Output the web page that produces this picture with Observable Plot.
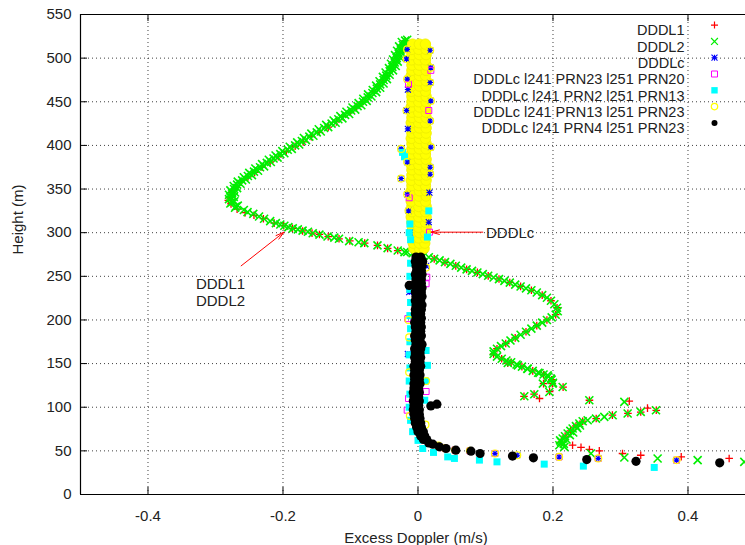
<!DOCTYPE html>
<html><head><meta charset="utf-8">
<script src="https://cdn.jsdelivr.net/npm/d3@7"></script>
<script src="https://cdn.jsdelivr.net/npm/@observablehq/plot@0.6"></script>
<style>
body{margin:0;background:#fff}
#chart{width:745px;height:545px}
</style>
</head><body><div id="chart"></div>
<script>
// ---------- axes ----------
const xDomain = [-0.5, 0.4852];
const yDomain = [0, 550];
const xTicks = [-0.4, -0.2, 0, 0.2, 0.4];
const yTicks = [0, 50, 100, 150, 200, 250, 300, 350, 400, 450, 500, 550];
const xLabel = "Excess Doppler (m/s)";
const yLabel = "Height (m)";
const seriesNames = ["DDDL1", "DDDL2", "DDDLc",
  "DDDLc l241 PRN23 l251 PRN20", "DDDLc l241 PRN2 l251 PRN13",
  "DDDLc l241 PRN13 l251 PRN23", "DDDLc l241 PRN4 l251 PRN23"];

// ---------- series: [excess doppler (m/s), height (m)] ----------
const DDDL1 = [
[-0.019,520],[-0.022,514],[-0.027,507],[-0.031,500],[-0.036,493],[-0.040,487],[-0.046,480],[-0.052,474],[-0.058,468],[-0.065,462],
[-0.073,456],[-0.082,450],[-0.091,444],[-0.100,438],[-0.111,433],[-0.121,427],[-0.133,421],[-0.146,415],[-0.158,410],[-0.170,404],
[-0.182,399],[-0.195,393],[-0.207,387],[-0.219,381],[-0.231,375],[-0.242,369],[-0.252,364],[-0.262,358],[-0.270,352],[-0.276,346],
[-0.279,340],[-0.281,337],[-0.277,333],[-0.268,327],[-0.256,323],[-0.243,320],[-0.229,316],[-0.213,311],[-0.199,308],[-0.186,305],
[-0.171,302],[-0.157,299.5],[-0.146,298],[-0.133,295.5],[-0.117,293],[-0.101,290.5],[-0.079,288],[-0.060,285.5],[-0.045,282],[-0.030,279.5],
[0.024,270],[0.040,266],[0.056,262],[0.072,258],[0.088,254.5],[0.104,250.5],[0.120,247],[0.136,243],[0.152,238.5],[0.168,234],
[0.184,228.5],[0.197,222],[0.206,214],[0.204,206],[0.191,200],[0.176,193.5],[0.160,186.5],[0.144,179.5],[0.130,173],[0.117,167],
[0.112,161],[0.124,155.5],[0.138,151.5],[0.154,146.5],[0.170,141.7],[0.186,137.5],[0.198,131.5],[0.199,127],
[0.133,150.5],[0.186,127],[0.195,118],[0.215,123],[0.157,112.5],[0.172,115],[0.180,110],[0.254,108],[0.313,107],[0.311,93],
[0.330,94.5],[0.340,99],[0.353,96.5],
[0.212,60],[0.218,67],[0.226,73],[0.234,78.5],[0.244,84],[0.264,87],[0.288,91],[0.229,56.5],[0.2415,54],[0.254,51.6],
[0.2686,50],[0.303,47],[0.330,45],[0.390,43.2],[0.461,41.3]
];
const DDDL2 = [
[-0.016,521],[-0.024,518.5],[-0.018,516],[-0.028,513.5],[-0.021,511],[-0.031,508.5],[-0.024,506],[-0.034,503.5],[-0.027,501],[-0.037,498.5],
[-0.030,496],[-0.040,493.5],[-0.033,491],[-0.043,488.5],[-0.037,486],[-0.048,483.5],[-0.042,481],[-0.052,478.5],[-0.046,476],[-0.057,473.5],
[-0.051,471],[-0.062,468.5],[-0.056,466],[-0.067,463.5],[-0.062,461],[-0.074,458.5],[-0.069,456],[-0.081,453.5],[-0.076,451],[-0.088,448.5],
[-0.084,446],[-0.097,443.5],[-0.093,441],[-0.106,438.5],[-0.102,436],[-0.115,433.5],[-0.112,431],[-0.125,428.5],[-0.122,426],[-0.136,423.5],
[-0.133,421],[-0.147,418.5],[-0.144,416],[-0.158,413.5],[-0.155,411],[-0.169,408.5],[-0.166,406],[-0.179,403.5],[-0.176,401],[-0.190,398.5],
[-0.187,396],[-0.201,393.5],[-0.198,391],[-0.211,388.5],[-0.208,386],[-0.221,383.5],[-0.218,381],[-0.231,378.5],[-0.228,376],[-0.241,373.5],
[-0.237,371],[-0.250,368.5],[-0.246,366],[-0.258,363.5],[-0.255,361],[-0.267,358.5],[-0.263,356],[-0.273,353.5],[-0.268,351],[-0.278,348.5],
[-0.271,346],[-0.280,343.5],[-0.273,341],[-0.280,338.5],[-0.272,336],[-0.278,333.5],[-0.267,331],[-0.271,328.5],[-0.258,326],
[-0.019,520],[-0.0225,515],[-0.0255,510],[-0.0285,505],[-0.0315,500],[-0.0345,495],[-0.038,490],[-0.042,485],[-0.047,480],[-0.051,475],
[-0.056,470],[-0.061,465],[-0.0675,460],[-0.0745,455],[-0.0815,450],[-0.0895,445],[-0.099,440],[-0.108,435],[-0.118,430],[-0.128,425],
[-0.139,420],[-0.150,415],[-0.161,410],[-0.172,405],[-0.182,400],[-0.193,395],[-0.204,390],[-0.214,385],[-0.224,380],[-0.234,375],
[-0.243,370],[-0.252,365],[-0.2605,360],[-0.268,355],[-0.2725,350],[-0.2755,345],[-0.277,340],[-0.2755,335],[-0.270,330],
[-0.2525,323.5],[-0.244,321.6],[-0.2355,318.6],[-0.228,316],[-0.219,313.2],[-0.2105,311],[-0.204,309.4],[-0.198,308],[-0.192,306.4],[-0.1855,305],
[-0.178,303.8],[-0.171,302.4],[-0.163,301],[-0.156,299.4],[-0.146,297.8],[-0.134,295.6],[-0.124,294.4],[-0.117,293],[-0.102,290.3],[-0.088,289],
[-0.0795,288],[-0.060,285.4],[-0.045,282.3],[-0.030,279.6],[-0.020,277.7],
[-0.016,277.8],[-0.008,276.5],[0.000,275],[0.008,273.5],[0.016,271.8],[0.024,270.1],[0.032,268.2],[0.040,266.3],[0.048,264.2],[0.056,262.1],
[0.064,260],[0.072,258],[0.080,256.2],[0.088,254.4],[0.096,252.5],[0.104,250.6],[0.112,248.7],[0.120,246.8],[0.128,244.8],[0.136,242.8],
[0.144,240.5],[0.152,238.3],[0.160,236.2],[0.168,234],[0.176,231.5],[0.184,228.5],[0.191,225.5],[0.197,222],[0.202,218],[0.206,214],
[0.207,210],[0.204,206],[0.198,203],[0.191,200],[0.184,197],[0.176,193.5],[0.168,190],[0.160,186.5],[0.152,183],[0.144,179.5],
[0.137,176.5],[0.130,173],[0.123,170],[0.117,167],[0.112,164],[0.112,161],[0.117,158],[0.124,155.5],[0.131,153.5],[0.138,151.5],
[0.146,149],[0.154,146.5],[0.162,144],[0.170,141.7],[0.178,139.5],[0.186,137.5],[0.193,135],[0.198,131.5],[0.200,128],
[0.133,150.7],[0.148,148],[0.1625,144.3],[0.180,139.2],[0.192,136.6],[0.197,132.8],[0.185,127.1],[0.1995,127.1],[0.1946,117.5],[0.2143,123.2],
[0.1575,112.6],[0.1723,114.9],[0.2538,108],[0.3057,106.1],[0.3106,92.8],[0.330,94.6],[0.3526,96.6],
[0.2094,56.5],[0.212,60.3],[0.2143,64.2],[0.2178,66.8],[0.2217,69.9],[0.2257,72.9],[0.2291,75.6],[0.234,78.3],[0.239,81.3],[0.244,84],
[0.2514,85.1],[0.2637,87],[0.276,88.9],[0.2884,90.8],[0.2168,54.6],[0.2105,62],[0.216,58],[0.220,63],[0.225,68],[0.230,71],
[0.236,76],[0.240,79],[0.2563,47],[0.3057,42.4],[0.355,41.3],[0.4143,39.4],[0.4834,37.4]
];
const DDDLc = [
[-0.016,510],[0.018,509],[-0.017,499],[0.019,489],[-0.016,476],[0.018,472],[-0.015,464],[0.019,451],[-0.017,440],
[0.018,428],[-0.015,419],[-0.025,396],[0.019,398],[-0.016,381],[0.018,375],[-0.025,362],[0.018,367],
[-0.016,344],[0.017,346],[-0.014,325],[0.016,312],[-0.012,300],
[-0.015,161],[-0.013,232],[0.012,262],
[0.040,53],[0.055,51],[0.077,50],[0.114,47],[0.147,45],[0.209,43],[0.267,41.3],[0.383,39.4]
];
const PRN23_20 = [
[0.019,486],[0.017,300.6],[-0.014,470],[0.016,440],[-0.013,340],
[0.013,249],[0.012,241.5],[-0.015,201.5],[-0.016,96.6],[-0.014,110],[0.012,118],
[0.040,53],[0.055,51],[0.077,50],[0.114,47],[0.209,43],[0.267,41.3],[0.383,39.4]
];
const PRN2_13 = [
[-0.023,392],[-0.020,387],[0.016,325],[-0.012,310],[-0.013,300],[-0.011,292],[0.014,295],
[-0.011,265],[-0.012,250],[-0.012,235],[-0.011,220],[-0.012,205],[-0.011,190],[-0.012,175],[-0.013,160],[-0.012,145],
[-0.013,130],[-0.012,115],[-0.013,100],[-0.011,85],[-0.008,72],[0.012,165],[0.014,148],[0.010,108],[0.011,130],
[0.000,62],[0.007,52.7],[0.023,48.2],[0.044,43.1],[0.054,41.3],[0.091,39.4],[0.117,37.4],[0.187,34.8],[0.245,32.5],[0.350,31]
];
// dense core of the PRN13/PRN23 column
const PRN13_23_core = [
[-0.006,282],[0.002,282],[0.009,282],[-0.007,288],[0.002,288],[0.010,288],[-0.008,294],[0.001,294],[0.011,294],
[-0.009,300],[0.002,300],[0.011,300],[-0.008,306],[0.001,306],[0.012,306],[-0.009,312],[0.002,312],[0.011,312],
[-0.010,318],[0.001,318],[0.012,318],[-0.009,324],[0.002,324],[0.011,324],[-0.009,330],[0.001,330],[0.012,330],
[-0.010,336],[0.002,336],[0.011,336],[-0.009,342],[0.001,342],[0.012,342],[-0.010,348],[0.002,348],[0.012,348],
[-0.009,354],[0.001,354],[0.011,354],[-0.010,360],[0.002,360],[0.012,360],[-0.009,366],[0.001,366],[0.012,366],
[-0.009,372],[0.002,372],[0.011,372],[-0.010,378],[0.001,378],[0.012,378],[-0.009,384],[0.002,384],[0.012,384],
[-0.010,390],[0.001,390],[0.011,390],[-0.009,396],[0.002,396],[0.012,396],[-0.009,402],[0.001,402],[0.012,402],
[-0.010,408],[0.002,408],[0.011,408],[-0.009,414],[0.001,414],[0.012,414],[-0.009,420],[0.002,420],[0.012,420],
[-0.010,426],[0.001,426],[0.011,426],[-0.009,432],[0.002,432],[0.012,432],[-0.009,438],[0.001,438],[0.012,438],
[-0.010,444],[0.002,444],[0.011,444],[-0.009,450],[0.001,450],[0.012,450],[-0.009,456],[0.002,456],[0.012,456],
[-0.010,462],[0.001,462],[0.011,462],[-0.009,468],[0.002,468],[0.012,468],[-0.009,474],[0.001,474],[0.012,474],
[-0.010,480],[0.002,480],[0.011,480],[-0.009,486],[0.001,486],[0.012,486],[-0.009,492],[0.002,492],[0.012,492],
[-0.010,498],[0.001,498],[0.011,498],[-0.009,504],[0.002,504],[0.012,504],[-0.009,510],[0.001,510],[0.012,510],
[-0.008,516],[0.002,516],[0.011,516]
];
// scattered PRN13/PRN23 points at the column edges and the low tail
const PRN13_23_edge = [
[-0.016,510],[0.018,509],[-0.017,499],[0.019,489],[-0.016,476],[0.018,472],[0.019,451],[-0.017,440],[0.018,428],
[-0.025,396],[0.019,398],[-0.016,381],[0.018,375],[-0.025,362],[0.018,367],[-0.016,344],[-0.014,325],
[-0.014,200],[-0.013,180],[0.012,130],[-0.013,140],[0.012,260],[-0.012,90],[0.011,80],
[0.030,56],[0.040,53],[0.055,51],[0.077,50],[0.114,47],[0.147,45],[0.209,43],[0.267,41.3],[0.383,39.4]
];
const PRN4_23 = [
[-0.003,272],[0.004,272],[-0.004,267],[0.007,267],[-0.003,262],[0.006,262],[-0.002,257],[0.005,257],[-0.004,252],[0.006,252],
[-0.003,247],[0.005,247],[-0.004,242],[0.005,242],[-0.003,237],[0.006,237],[-0.004,232],[0.005,232],[-0.003,227],[0.006,227],
[-0.004,222],[0.004,222],[-0.003,217],[0.006,217],[-0.004,212],[0.005,212],[-0.004,207],[0.004,207],[-0.003,202],[0.005,202],
[-0.005,197],[0.004,197],[-0.004,192],[0.005,192],[-0.003,187],[0.004,187],[-0.005,182],[0.005,182],[-0.004,177],[0.003,177],
[-0.003,172],[0.006,172],[-0.005,167],[0.004,167],[-0.004,162],[0.003,162],[-0.005,157],[0.004,157],[-0.004,152],[0.003,152],
[-0.006,147],[0.004,147],[-0.005,142],[0.002,142],[-0.006,137],[0.003,137],[-0.005,132],[0.002,132],[-0.006,127],[0.003,127],
[-0.006,122],[0.001,122],[-0.007,117],[0.002,117],[-0.006,112],[0.001,112],[-0.007,107],[0.002,107],[-0.006,102],[0.001,102],
[-0.007,97],[0.002,97],[-0.006,92],[0.002,92],[-0.005,87],[0.003,87],[-0.004,82],[0.004,82],[-0.002,77],[0.005,77],
[0.000,72],[0.008,72],[0.004,67],[0.010,67],[0.008,63],[0.013,63],
[-0.013,239.6],[0.019,101.5],[0.028,103.5],
[0.016,59],[0.022,57.7],[0.0316,54.6],[0.0415,52.7],[0.056,50.8],[0.0785,49.6],[0.092,47],[0.140,44],[0.171,42],[0.250,40],
[0.323,38],[0.447,36.3]
];

// ---------- annotations ----------
const annotArrows = [
  {x1: 0.096, y1: 300.6, x2: 0.0193, y2: 300.6},
  {x1: -0.262, y1: 262, x2: -0.1985, y2: 300.6}
];
const annotLabels = [
  {text: "DDDLc", x: 0.1007, y: 299},
  {text: "DDDL1", x: -0.329, y: 240.7},
  {text: "DDDL2", x: -0.329, y: 221.3}
];

// ---------- custom gnuplot-like point symbols (r = half size) ----------
const rOf = s => Math.sqrt(s / Math.PI);
const plusSym = {draw(c, s){const r = rOf(s); c.moveTo(-r,0); c.lineTo(r,0); c.moveTo(0,-r); c.lineTo(0,r);}};
const timesSym = {draw(c, s){const r = rOf(s); c.moveTo(-r,-r); c.lineTo(r,r); c.moveTo(-r,r); c.lineTo(r,-r);}};
const starSym = {draw(c, s){const r = rOf(s); c.moveTo(-r,0); c.lineTo(r,0); c.moveTo(0,-r); c.lineTo(0,r);
  c.moveTo(-r,-r); c.lineTo(r,r); c.moveTo(-r,r); c.lineTo(r,-r);}};
const squareSym = {draw(c, s){const r = rOf(s); c.moveTo(-r,-r); c.lineTo(r,-r); c.lineTo(r,r); c.lineTo(-r,r); c.closePath();}};
const circleSym = {draw(c, s){const r = rOf(s); c.moveTo(r,0); c.arc(0,0,r,0,2*Math.PI);}};

const styles = [
  {symbol: plusSym,   stroke: "#ff0000", fill: "none", r: 3.8, sw: 1.3},
  {symbol: timesSym,  stroke: "#00ee00", fill: "none", r: 4.0, sw: 1.6},
  {symbol: starSym,   stroke: "#0000ff", fill: "none", r: 3.0, sw: 1.1},
  {symbol: squareSym, stroke: "#ff00ff", fill: "none", r: 3.0, sw: 1},
  {symbol: squareSym, stroke: "none",    fill: "#00ffff", r: 3.5, sw: 0},
  {symbol: circleSym, stroke: "#ffff00", fill: "none", r: 3.5, sw: 1.2},
  {symbol: circleSym, stroke: "none",    fill: "#000000", r: 3.0, sw: 0}
];
const legendR = [3.5, 3.4, 3.0, 3.0, 3.2, 3.2, 3.0];
function pts(data, st) {
  return Plot.dot(data, {x: d => d[0], y: d => d[1], symbol: st.symbol, r: st.r,
    stroke: st.stroke, fill: st.fill, strokeWidth: st.sw});
}

const font = "'Liberation Sans', Arial, Helvetica, sans-serif";
const fs = 15;
const legendFs = 14.5;
const legendStep = 16.3;
const legendMarks = [];
seriesNames.forEach((name, i) => {
  const dy = 59.5 - 3 * legendStep + legendStep * i;
  legendMarks.push(Plot.text([name], {text: d => d, frameAnchor: "top-right", dx: -61, dy, textAnchor: "end", fontSize: legendFs, fill: "#222"}));
  const st = styles[i];
  legendMarks.push(Plot.dot([0], {frameAnchor: "top-right", dx: -31, dy, symbol: st.symbol, r: legendR[i],
    stroke: st.stroke, fill: st.fill, strokeWidth: Math.min(st.sw, 1.2)}));
});

const chart = Plot.plot({
  width: 745, height: 545,
  marginLeft: 80, marginRight: 0, marginTop: 14, marginBottom: 51,
  style: {fontFamily: font, fontSize: fs + "px", background: "#fff", color: "#222"},
  x: {domain: xDomain},
  y: {domain: yDomain},
  marks: [
    Plot.gridX(xTicks, {stroke: "#000", strokeOpacity: 0.75, strokeDasharray: "1,3"}),
    Plot.gridY(yTicks.slice(1, -1), {stroke: "#000", strokeOpacity: 0.75, strokeDasharray: "1,3"}),
    Plot.tickY(yTicks, {y: d => d, insetRight: 665 - 7, stroke: "#000"}),
    Plot.tickX(xTicks, {x: d => d, insetBottom: 480 - 7, stroke: "#000"}),
    Plot.tickX(xTicks, {x: d => d, insetTop: 480 - 7, stroke: "#000"}),
    Plot.axisX({ticks: xTicks, tickSize: 0, tickPadding: 16, label: null, tickFormat: d => d === 0 ? "0" : d.toFixed(1), fill: "#222"}),
    Plot.axisY({ticks: yTicks, tickSize: 0, tickPadding: 9, label: null, tickFormat: d => String(d), fill: "#222"}),
    pts(DDDL1, styles[0]),
    pts(DDDL2, styles[1]),
    Plot.dot(PRN13_23_core, {x: d => d[0], y: d => d[1], r: 5.2, fill: "#ffff00", stroke: "#f2f200", strokeWidth: 1}),
    pts(DDDLc, styles[2]),
    pts(PRN23_20, styles[3]),
    pts(PRN2_13, styles[4]),
    pts(PRN13_23_edge, styles[5]),
    Plot.dot(PRN4_23, {x: d => d[0], y: d => d[1], r: 4.6, fill: "#000"}),
    Plot.arrow(annotArrows, {x1: "x1", y1: "y1", x2: "x2", y2: "y2", stroke: "#ff0000", strokeWidth: 1, headAngle: 30, headLength: 13}),
    Plot.text(annotLabels, {x: "x", y: "y", text: "text", textAnchor: "start", fontSize: fs, fill: "#222"}),
    Plot.ruleX([xDomain[0]], {stroke: "#000", strokeWidth: 1.2}),
    Plot.ruleY([yDomain[0], yDomain[1]], {stroke: "#000", strokeWidth: 1.2}),
    ...legendMarks,
    Plot.text([xLabel], {text: d => d, frameAnchor: "bottom", dx: 3, dy: 48, fontSize: fs, fill: "#222"}),
    Plot.text([yLabel], {text: d => d, frameAnchor: "left", dx: -62, rotate: -90, fontSize: fs, fill: "#222"})
  ]
});
document.getElementById("chart").appendChild(chart);
</script>
</body></html>
